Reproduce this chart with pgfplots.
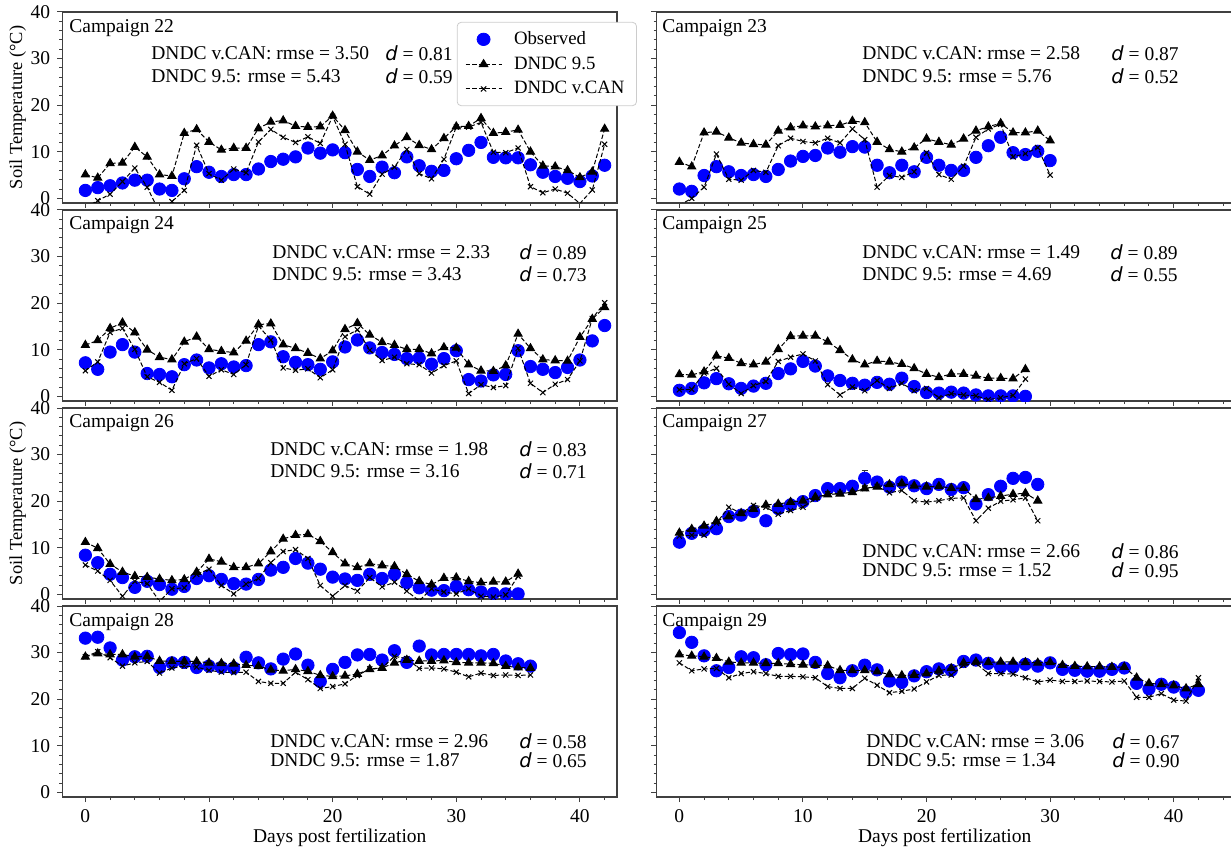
\documentclass[border=0pt]{standalone}
\usepackage{pgfplots}
\pgfplotsset{compat=1.18}
\usepackage{pgfplotstable}
\usepackage{fontspec}
\setmainfont{Liberation Serif}
\newfontfamily\dvs{DejaVu Sans}
\newcommand{\dd}{{\dvs\itshape d}}
\newcommand{\statfont}{\fontsize{9.75}{11}\selectfont}

\pgfplotstableread{
x o a b
0 1.7 5.1 -2
1 2.3 4.4 -0.5
2 2.7 7.5 0.9
3 3.3 7.6 3.6
4 3.9 11.0 6.5
5 3.9 8.9 2.4
6 2.0 5.1 -3
7 1.7 4.8 -0.7
8 4.2 14.0 1.7
9 6.8 14.8 11.4
10 5.6 12.1 5.3
11 4.7 10.4 3.9
12 5.1 10.8 6.3
13 5.1 10.8 5.5
14 6.3 15.0 12.1
15 7.9 16.4 14.8
16 8.4 16.7 13.1
17 8.9 15.5 12.0
18 10.8 15.3 13.2
19 9.7 15.4 11.8
20 10.4 17.7 17.6
21 9.8 14.6 11.6
22 6.2 10.0 2.5
23 4.7 8.2 0.9
24 6.7 9.2 5.2
25 5.5 11.3 6.7
26 8.9 13.1 10.5
27 7.0 11.4 5.3
28 5.8 10.5 4.2
29 6.0 12.9 8.4
30 8.5 15.4 15.3
31 10.3 15.5 15.3
32 12.0 17.2 16.3
33 8.8 14.0 9.9
34 8.7 14.2 9.8
35 8.7 14.7 10.8
36 7.2 10.0 2.5
37 5.6 7.0 1.2
38 4.7 6.8 2.0
39 4.3 6.0 1.1
40 3.6 4.5 -1.1
41 4.8 5.7 1.8
42 7.1 14.9 11.6
}\tA

\pgfplotstableread{
x o a b
0 2.0 7.8 -1.5
1 1.5 6.8 0.0
2 4.9 14.1 2.4
3 6.8 14.3 9.5
4 5.7 13.0 4.1
5 4.9 11.9 3.9
6 5.1 11.6 6.0
7 4.7 11.5 5.6
8 6.2 14.5 11.3
9 8.0 15.2 12.9
10 9.0 15.6 12.2
11 9.2 15.4 11.9
12 10.8 15.6 12.9
13 9.9 15.7 11.9
14 11.1 16.6 14.9
15 11.0 16.3 12.6
16 7.1 12.1 2.4
17 5.5 10.5 4.9
18 7.1 10.0 4.5
19 5.7 10.9 5.7
20 8.8 12.8 9.8
21 7.1 12.1 5.1
22 6.0 11.5 4.1
23 6.0 12.8 6.9
24 8.8 14.5 13.1
25 11.3 15.4 14.9
26 13.1 16.1 15.9
27 9.8 14.1 8.9
28 9.4 14.1 9.6
29 10.1 14.5 10.9
30 8.1 12.4 5.0
}\tB

\pgfplotstableread{
x o a b
0 7.2 11.0 5.5
1 5.8 12.0 7.4
2 9.5 14.6 13.7
3 11.1 15.8 14.6
4 9.5 13.7 10.1
5 4.9 10.0 4.2
6 4.7 8.4 3.0
7 4.2 7.9 1.3
8 6.8 11.7 7.0
9 7.8 12.8 8.1
10 6.1 10.1 4.3
11 7.0 9.7 5.7
12 6.3 9.4 4.7
13 6.6 11.9 6.8
14 11.1 15.4 15.1
15 11.7 15.6 12.1
16 8.5 11.1 6.1
17 7.3 10.3 5.6
18 6.8 9.3 5.9
19 5.8 8.1 4.0
20 7.4 9.8 5.7
21 10.6 14.4 12.8
22 12.1 15.7 14.3
23 10.4 13.2 9.9
24 9.4 11.6 7.7
25 9.0 11.0 8.4
26 8.1 10.1 7.0
27 8.2 10.1 6.8
28 6.9 9.2 5.0
29 8.1 10.5 6.6
30 9.8 10.4 7.6
31 3.6 6.8 0.6
32 3.3 5.5 2.5
33 4.6 5.4 1.9
34 4.7 6.6 2.3
35 9.8 13.4 10.3
36 6.4 10.3 2.8
37 5.8 7.9 0.8
38 5.1 7.7 2.6
39 6.2 7.6 3.6
40 7.8 12.7 7.6
41 11.9 16.6 16.7
42 15.2 19.1 20.1
}\tC

\pgfplotstableread{
x o a b
0 1.3 4.7 1.4
1 1.7 4.6 1.5
2 2.9 5.3 5.0
3 3.8 8.7 6.0
4 2.7 8.2 2.6
5 1.7 7.1 0.6
6 2.2 6.8 2.3
7 2.8 7.4 3.2
8 4.9 10.1 7.5
9 5.9 12.9 8.4
10 7.5 13.0 9.1
11 6.5 13.0 7.6
12 4.4 11.7 2.5
13 3.4 9.9 0.3
14 2.8 7.9 2.0
15 2.4 6.8 1.2
16 3.0 7.6 3.4
17 2.6 7.4 1.7
18 3.9 6.9 2.8
19 2.1 6.0 1.2
20 0.8 4.8 1.7
21 0.7 4.1 -0.3
22 0.9 4.8 0.6
23 0.7 4.8 0.3
24 0.3 4.4 0.1
25 0.1 3.9 -0.7
26 0.1 3.9 -0.3
27 0.1 3.8 0.2
28 0.0 5.8 3.7
}\tD

\pgfplotstableread{
x o a b
0 8.4 11.2 6.3
1 6.8 9.9 5.0
2 4.3 6.5 3.0
3 3.6 4.8 -0.4
4 1.5 3.9 2.8
5 2.8 3.7 2.3
6 2.1 3.3 -1.5
7 1.1 3.0 1.2
8 1.7 3.2 1.4
9 3.4 4.8 4.3
10 4.0 7.6 5.4
11 3.2 7.0 1.9
12 2.3 5.8 0.1
13 2.2 5.8 2.2
14 3.2 6.6 3.4
15 5.2 9.2 6.8
16 5.8 11.9 9.2
17 7.7 12.7 9.6
18 6.7 12.9 7.7
19 5.4 11.4 1.9
20 3.7 9.0 -0.4
21 3.3 6.6 1.9
22 3.0 5.8 0.7
23 4.3 6.6 3.6
24 3.4 6.2 1.6
25 4.3 6.0 2.6
26 2.5 4.3 0.7
27 1.4 2.8 -1.4
28 0.9 2.1 1.2
29 0.8 3.5 0.5
30 1.7 3.6 0.1
31 1.0 2.8 1.2
32 0.5 2.5 -0.4
33 0.2 2.7 -0.6
34 0.1 2.7 -0.1
35 0.1 4.4 3.9
}\tE

\pgfplotstableread{
x o a b e
0 11.2 13.2 12.5 0.8
1 13.1 14.0 12.7 0
2 13.7 14.7 12.7 0
3 14.1 15.7 15.3 0
4 16.7 16.7 18.7 0
5 17.0 17.4 17.4 0
6 17.8 18.3 19.1 0
7 15.8 19.2 18.7 0
8 18.4 19.4 17.2 0
9 19.2 19.8 18.0 0
10 19.9 20.1 18.7 0
11 21.2 20.9 20.5 0
12 22.7 21.4 21.6 0
13 22.7 21.6 21.7 0
14 23.2 21.9 21.9 0
15 24.9 22.7 22.7 1.6
16 24.1 23.1 23.2 0.8
17 23.0 23.6 21.8 0
18 24.1 23.8 22.3 0.5
19 23.3 23.3 20.1 0
20 22.7 23.1 19.8 0
21 23.6 23.2 20.1 0.6
22 22.5 22.8 20.6 0
23 22.9 22.8 20.7 0
24 19.4 20.4 15.8 0
25 21.4 20.7 18.5 0
26 23.2 21.1 20.0 0
27 24.9 21.5 20.3 0
28 25.1 21.7 20.7 0
29 23.6 20.1 15.8 0
}\tF

\pgfplotstableread{
x o a b
0 33.1 29.1 29.1
1 33.3 29.8 30.2
2 31.0 29.6 28.9
3 28.4 29.6 27.1
4 29.1 29.1 27.8
5 29.2 29.2 28.1
6 26.8 28.2 25.6
7 27.8 28.1 26.7
8 27.9 28.1 27.1
9 26.8 28.1 26.9
10 27.1 27.8 26.2
11 26.8 27.7 25.8
12 26.7 27.6 25.7
13 29.0 27.3 25.8
14 27.8 27.1 23.8
15 26.5 26.3 23.4
16 28.6 26.1 23.4
17 29.7 26.4 25.8
18 27.3 26.0 24.2
19 23.8 25.1 22.3
20 26.4 24.9 22.7
21 27.9 25.0 23.3
22 29.5 25.4 25.1
23 29.6 26.4 26.5
24 28.4 26.7 26.7
25 30.4 27.8 29.2
26 27.9 28.4 28.7
27 31.4 28.2 26.6
28 29.5 28.2 26.7
29 29.6 28.3 26.5
30 29.6 27.9 25.8
31 29.6 27.8 24.8
32 29.3 27.8 25.6
33 29.6 27.7 25.1
34 28.2 27.1 25.2
35 27.6 26.8 25.1
36 27.1 26.7 25.2
}\tG

\pgfplotstableread{
x o a b
0 34.3 29.6 27.8
1 32.2 29.3 26.1
2 29.3 29.1 26.5
3 26.1 28.8 26.6
4 26.8 28.0 24.6
5 29.1 27.8 25.5
6 28.9 27.8 25.9
7 27.4 27.7 25.5
8 29.8 27.7 24.9
9 29.6 27.5 24.9
10 29.7 27.4 24.8
11 27.9 27.3 24.6
12 25.5 27.2 22.7
13 24.6 26.2 22.3
14 26.1 26.2 22.3
15 27.3 26.2 24.5
16 26.3 25.9 23.0
17 23.9 25.3 21.4
18 23.6 25.1 21.7
19 25.0 25.2 22.2
20 25.9 25.5 23.7
21 26.5 26.1 25.1
22 26.2 26.6 25.2
23 28.1 27.8 27.3
24 28.4 28.0 27.7
25 27.7 27.9 25.5
26 26.9 28.0 25.5
27 26.9 28.0 25.4
28 27.5 27.9 24.6
29 27.1 27.8 23.7
30 27.8 27.9 24.1
31 26.4 27.3 23.8
32 26.2 27.1 23.8
33 26.0 27.0 23.9
34 26.0 27.0 23.8
35 26.4 26.9 23.7
36 26.7 26.9 23.9
37 23.4 24.6 20.4
38 22.2 23.4 20.4
39 23.2 23.2 21.2
40 22.6 22.9 19.8
41 21.5 22.3 19.6
42 21.9 23.2 24.6
}\tH

\pgfplotsset{
  panel/.style={
    scale only axis, height=95.5pt, ymin=-1, ymax=40, xmin=-1.85,
    xtick={0,10,20,30,40}, ytick={0,10,20,30,40},
    minor xtick={2,4,6,8,12,14,16,18,22,24,26,28,32,34,36,38,42,44},
    minor ytick={2,4,6,8,12,14,16,18,22,24,26,28,32,34,36,38},
    tick align=outside, tick pos=left,
    major tick length=2.6pt, minor tick length=1.5pt,
    axis line style={black!75, line width=0.6pt},
    every tick/.style={black!75, line width=0.5pt},
    tick label style={font=\fontsize{9.75}{11}\selectfont},
    label style={font=\fontsize{9.75}{11}\selectfont},
    ylabel style={font=\fontsize{9.2}{11}\selectfont},
    ylabel shift=-4.5pt, xlabel shift=-3.5pt,
    /pgf/number format/assume math mode=true,
    clip marker paths=true,
    anchor=north west,
  },
  lp/.style={panel, width=277.25pt, xmax=43},
  rp/.style={panel, width=288.25pt, xmax=44.8, yticklabels={}},
  noxl/.style={xticklabels={}},
  obs/.style={only marks, mark=*, mark size=3.1pt, blue, mark options={draw=blue, fill=blue}},
  m95/.style={black, line width=0.5pt, dash pattern=on 2.2pt off 1.1pt, mark=triangle*, mark size=2.3pt, mark options={solid, fill=black}},
  mcan/.style={black, line width=0.5pt, dash pattern=on 2.2pt off 1.1pt, mark=x, mark size=1.8pt, mark options={solid}},
}

\newcommand\stat[8]{%
  \node[anchor=west, inner sep=0pt, font=\statfont] at (#1pt,-#2pt) {DNDC v.CAN: rmse = #5};
  \node[anchor=west, inner sep=0pt, font=\statfont] at (#1pt,-#3pt) {DNDC 9.5: rmse = #6};
  \node[anchor=west, inner sep=0pt, font=\statfont] at (#4pt,-#2pt) {\dd\ = #7};
  \node[anchor=west, inner sep=0pt, font=\statfont] at (#4pt,-#3pt) {\dd\ = #8};
}
\newcommand\camp[3]{\node[anchor=west, inner sep=0pt, font=\statfont] at (#1pt,-#2pt) {Campaign #3};}

\begin{document}
\begin{tikzpicture}
% Row 1
\begin{axis}[lp, noxl, at={(31.25pt,-6pt)}, ylabel={Soil Temperature (°C)},
  legend style={at={(rel axis cs:0.711,0.948)}, anchor=north west, draw=black!20, rounded corners=2pt,
    fill=white, font=\fontsize{9.4}{11}\selectfont, row sep=0.6pt, inner xsep=4pt, inner ysep=2.5pt,
    column sep=4pt},
  legend image post style={xscale=1.05},
  legend cell align=left]
\addplot[obs] table[x=x,y=o]{\tA}; \addlegendentry{Observed}
\addplot[m95] table[x=x,y=a]{\tA}; \addlegendentry{DNDC 9.5}
\addplot[mcan] table[x=x,y=b]{\tA}; \addlegendentry{DNDC v.CAN}
\end{axis}
\begin{axis}[rp, noxl, at={(328.25pt,-6pt)}]
\addplot[obs] table[x=x,y=o]{\tB};
\addplot[m95] table[x=x,y=a]{\tB};
\addplot[mcan] table[x=x,y=b]{\tB};
\end{axis}
% Row 2
\begin{axis}[lp, noxl, at={(31.25pt,-105pt)}]
\addplot[obs] table[x=x,y=o]{\tC};
\addplot[m95] table[x=x,y=a]{\tC};
\addplot[mcan] table[x=x,y=b]{\tC};
\end{axis}
\begin{axis}[rp, noxl, at={(328.25pt,-105pt)}]
\addplot[obs] table[x=x,y=o]{\tD};
\addplot[m95] table[x=x,y=a]{\tD};
\addplot[mcan] table[x=x,y=b]{\tD};
\end{axis}
% Row 3
\begin{axis}[lp, noxl, at={(31.25pt,-204pt)}, ylabel={Soil Temperature (°C)}]
\addplot[obs] table[x=x,y=o]{\tE};
\addplot[m95] table[x=x,y=a]{\tE};
\addplot[mcan] table[x=x,y=b]{\tE};
\end{axis}
\begin{axis}[rp, noxl, at={(328.25pt,-204pt)}]
\addplot[obs, error bars/.cd, y dir=both, y explicit, error bar style={black!80, line width=0.4pt}, error mark options={black!80, mark size=1.5pt, rotate=90}] table[x=x,y=o,y error=e]{\tF};
\addplot[m95] table[x=x,y=a]{\tF};
\addplot[mcan] table[x=x,y=b]{\tF};
\end{axis}
% Row 4
\begin{axis}[lp, at={(31.25pt,-303pt)}, xlabel={Days post fertilization}]
\addplot[obs] table[x=x,y=o]{\tG};
\addplot[m95] table[x=x,y=a]{\tG};
\addplot[mcan] table[x=x,y=b]{\tG};
\end{axis}
\begin{axis}[rp, at={(328.25pt,-303pt)}, xlabel={Days post fertilization}]
\addplot[obs] table[x=x,y=o]{\tH};
\addplot[m95] table[x=x,y=a]{\tH};
\addplot[mcan] table[x=x,y=b]{\tH};
\end{axis}

\camp{34.5}{14}{22}
\camp{331}{14}{23}
\camp{34.5}{112.5}{24}
\camp{331}{112.5}{25}
\camp{34.5}{211.5}{26}
\camp{331}{211.5}{27}
\camp{34.5}{311}{28}
\camp{331}{311}{29}

\stat{75.5}{26.75}{38}{192.5}{3.50}{5.43}{0.81}{0.59}
\stat{431}{26.75}{38}{555.5}{2.58}{5.76}{0.87}{0.52}
\stat{136}{126}{137.25}{259.5}{2.33}{3.43}{0.89}{0.73}
\stat{431}{126}{137.25}{555}{1.49}{4.69}{0.89}{0.55}
\stat{135}{224.5}{235.75}{259.5}{1.98}{3.16}{0.83}{0.71}
\stat{431}{275.5}{285.25}{555.5}{2.66}{1.52}{0.86}{0.95}
\stat{135}{370.5}{380}{259.5}{2.96}{1.87}{0.58}{0.65}
\stat{433}{370.5}{380}{556}{3.06}{1.34}{0.67}{0.90}

\pgfresetboundingbox
\path[use as bounding box] (0,0) rectangle (615.5pt,-425pt);
\end{tikzpicture}
\end{document}
